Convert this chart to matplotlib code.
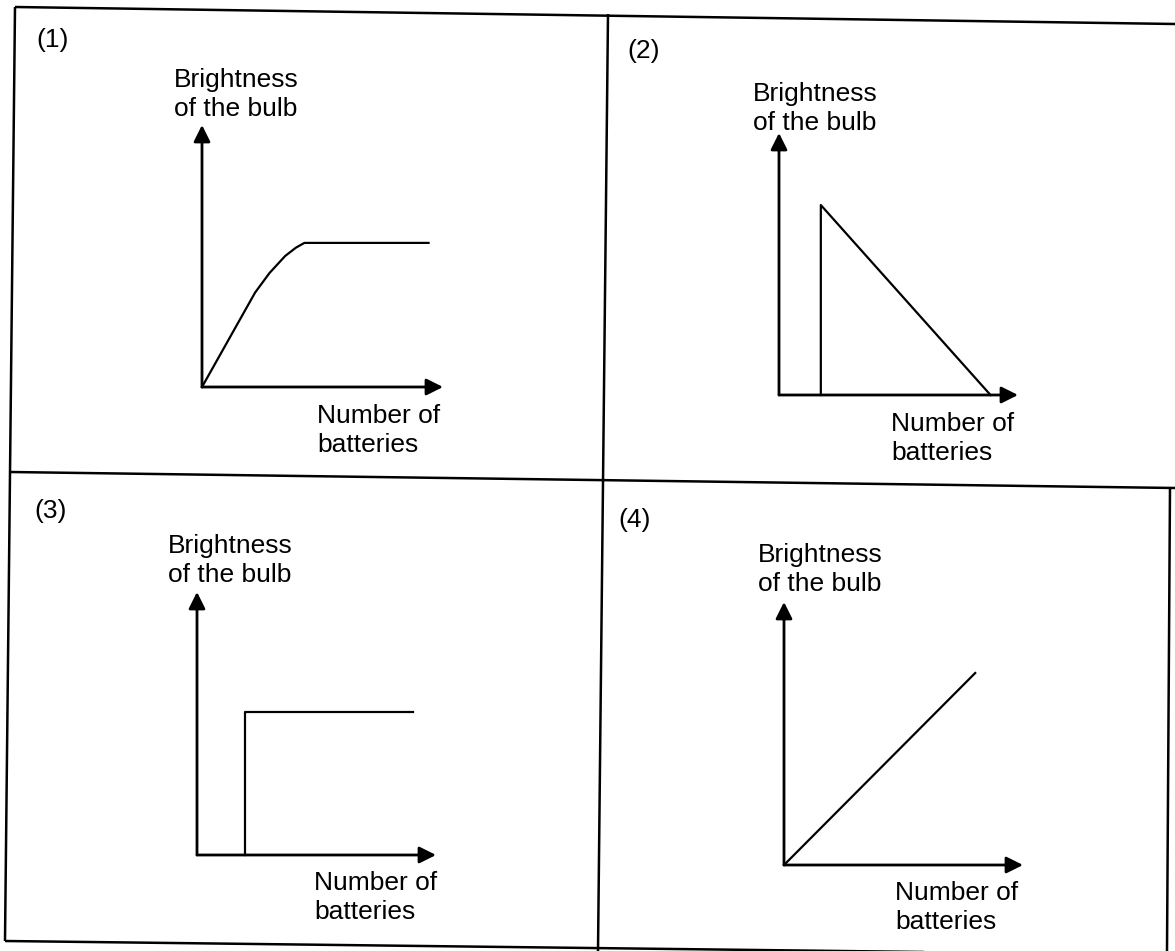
import matplotlib.pyplot as plt

plt.rcParams['font.family'] = ['Liberation Sans', 'DejaVu Sans']

WIDTH, HEIGHT = 1175, 951

# Text of each small graph
panel_tags = ["(1)", "(2)", "(3)", "(4)"]
y_label_lines = ["Brightness", "of the bulb"]
x_label_lines = ["Number of", "batteries"]

# Curves, in axis units (both axes run 0-10)
batteries_1 = [0, 1.1, 2.2, 2.8, 3.45, 3.9, 4.25, 9.4]
brightness_1 = [0, 1.8, 3.6, 4.35, 5.0, 5.32, 5.5, 5.5]
batteries_2 = [1.75, 1.75, 8.85]
brightness_2 = [0, 7.25, 0]
batteries_3 = [2.0, 2.0, 9.05]
brightness_3 = [0, 5.45, 5.45]
batteries_4 = [0, 8.0]
brightness_4 = [0, 7.3]

curves = [
    (batteries_1, brightness_1),
    (batteries_2, brightness_2),
    (batteries_3, brightness_3),
    (batteries_4, brightness_4),
]

# Layout in pixels from the top-left corner
# origin x, origin y, x-arrow tip, y-arrow tip
axes_px = [
    (202, 387, 443, 125),
    (779, 395, 1018, 133),
    (197, 855, 436, 592),
    (784, 865, 1023, 602),
]
tag_px = [(36, 47), (627, 58), (34, 518), (618, 527)]
ylabel_px = [(174, 87), (753, 101), (168, 553), (758, 562)]
xlabel_px = [(317, 423), (891, 431), (314, 890), (895, 900)]
LINE_GAP = 29
FONT_SIZE = 19

# Table rules (scan is slightly rotated)
rules_px = [
    ((15, 7), (1175, 24)),
    ((15, 7), (5, 941)),
    ((5, 941), (1175, 955)),
    ((10, 472), (1175, 488)),
    ((608, 14), (598, 951)),
    ((1170, 487), (1167, 951)),
]


def draw_graph(fig, frame, i):
    ox, oy, tx, ty = axes_px[i]
    ax = fig.add_axes([ox / WIDTH, 1 - oy / HEIGHT,
                       (tx - ox) / WIDTH, (oy - ty) / HEIGHT])
    ax.set_xlim(0, 10)
    ax.set_ylim(0, 10)
    ax.axis("off")

    arrow = dict(arrowstyle="-|>,head_length=0.5,head_width=0.25",
                 mutation_scale=20, lw=2.0, color="black",
                 shrinkA=0, shrinkB=0)
    ax.annotate("", xy=(1, 0), xytext=(0, 0), xycoords="axes fraction",
                arrowprops=arrow)
    ax.annotate("", xy=(0, 1), xytext=(0, 0), xycoords="axes fraction",
                arrowprops=arrow)

    xs, ys = curves[i]
    ax.plot(xs, ys, color="black", lw=1.6, clip_on=False,
            solid_joinstyle="round")

    # Labels
    frame.text(*tag_px[i], panel_tags[i], fontsize=FONT_SIZE,
               ha="left", va="baseline")
    lx, ly = ylabel_px[i]
    for k, line in enumerate(y_label_lines):
        frame.text(lx, ly + k * LINE_GAP, line, fontsize=FONT_SIZE,
                   ha="left", va="baseline")
    lx, ly = xlabel_px[i]
    for k, line in enumerate(x_label_lines):
        frame.text(lx, ly + k * LINE_GAP, line, fontsize=FONT_SIZE,
                   ha="left", va="baseline")


def main():
    fig = plt.figure(figsize=(WIDTH / 100, HEIGHT / 100), dpi=100)
    fig.patch.set_facecolor("white")

    frame = fig.add_axes([0, 0, 1, 1])
    frame.set_xlim(0, WIDTH)
    frame.set_ylim(HEIGHT, 0)
    frame.axis("off")

    for (x0, y0), (x1, y1) in rules_px:
        frame.plot([x0, x1], [y0, y1], color="black", lw=1.8,
                   solid_capstyle="butt")

    for i in range(4):
        draw_graph(fig, frame, i)

    fig.savefig("out.png", dpi=100)
    plt.close(fig)


if __name__ == "__main__":
    main()
